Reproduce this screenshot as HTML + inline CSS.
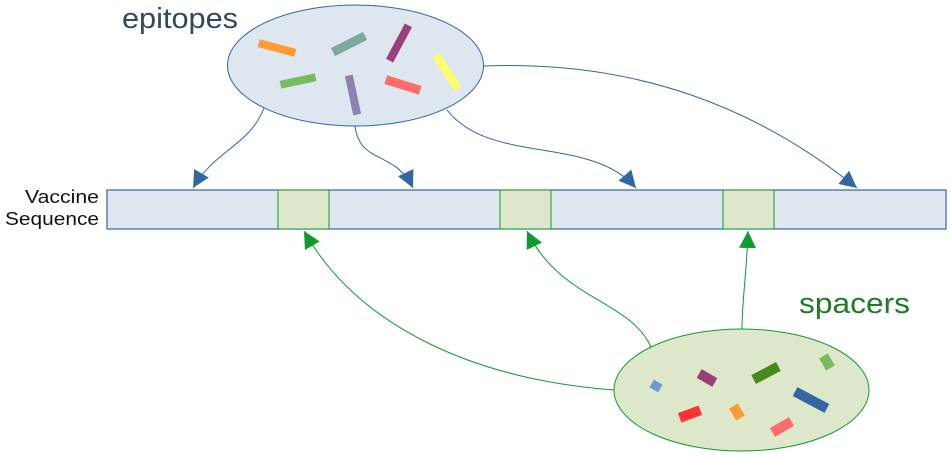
<!DOCTYPE html>
<html><head><meta charset="utf-8"><style>
body{margin:0;background:#fff}
svg{display:block}
text{font-family:"Liberation Sans",sans-serif}
</style></head><body>
<svg width="951" height="457" viewBox="0 0 951 457" xmlns="http://www.w3.org/2000/svg">
<defs>
<marker id="ab" viewBox="0 0 10 10" refX="10" refY="5" markerWidth="17" markerHeight="17" markerUnits="userSpaceOnUse" orient="auto"><path d="M0,0 L10,5 L0,10 z" fill="#3465a4"/></marker>
<marker id="ag" viewBox="0 0 10 10" refX="10" refY="5" markerWidth="17" markerHeight="17" markerUnits="userSpaceOnUse" orient="auto"><path d="M0,0 L10,5 L0,10 z" fill="#109a30"/></marker>
</defs>
<text x="122" y="28" font-size="29" fill="#2e4a62" textLength="116" lengthAdjust="spacingAndGlyphs">epitopes</text>
<text x="799" y="313" font-size="29" fill="#1e7a26" textLength="111" lengthAdjust="spacingAndGlyphs">spacers</text>
<text x="99" y="203" font-size="18" text-anchor="end" fill="#111" textLength="74" lengthAdjust="spacingAndGlyphs">Vaccine</text>
<text x="99" y="225" font-size="18" text-anchor="end" fill="#111" textLength="94" lengthAdjust="spacingAndGlyphs">Sequence</text>

<rect x="107" y="190" width="839" height="39" fill="#dee6ef" stroke="#3465a4" stroke-width="1.2"/>
<line x1="278" y1="190" x2="278" y2="229" stroke="#3465a4"/><line x1="329" y1="190" x2="329" y2="229" stroke="#3465a4"/>
<line x1="500" y1="190" x2="500" y2="229" stroke="#3465a4"/><line x1="551" y1="190" x2="551" y2="229" stroke="#3465a4"/>
<line x1="723" y1="190" x2="723" y2="229" stroke="#3465a4"/><line x1="774" y1="190" x2="774" y2="229" stroke="#3465a4"/>
<rect x="278" y="190" width="51" height="39" fill="#dde8cb" stroke="#109a30"/>
<rect x="500" y="190" width="51" height="39" fill="#dde8cb" stroke="#109a30"/>
<rect x="723" y="190" width="51" height="39" fill="#dde8cb" stroke="#109a30"/>

<g fill="none" stroke="#3465a4" stroke-width="1">
<path d="M264,108 C250,145 215,150 193,188" marker-end="url(#ab)"/>
<path d="M355,126 C360,165 395,150 413,188" marker-end="url(#ab)"/>
<path d="M447,110 C490,165 590,135 636,188" marker-end="url(#ab)"/>
<path d="M484,66 C640,60 760,110 857,188" marker-end="url(#ab)"/>
</g>
<g fill="none" stroke="#109a30" stroke-width="1">
<path d="M614,390 C480,380 360,330 304,231" marker-end="url(#ag)"/>
<path d="M651,347 C630,300 560,300 527,231" marker-end="url(#ag)"/>
<path d="M742,329 C742,300 747,270 748,231" marker-end="url(#ag)"/>
</g>

<ellipse cx="355.5" cy="65.5" rx="128" ry="60.5" fill="#dee6ef" stroke="#3465a4" stroke-width="1"/>
<g>
<rect x="-19" y="-4" width="38" height="8" fill="#ff9933" transform="translate(277,48) rotate(15)"/>
<rect x="-18" y="-4.5" width="36" height="9" fill="#7fa99f" transform="translate(349,44) rotate(-27)"/>
<rect x="-20" y="-4" width="40" height="8" fill="#9b3f7a" transform="translate(399,43) rotate(-62)"/>
<rect x="-20" y="-4" width="40" height="8" fill="#ffff66" transform="translate(447,72) rotate(57)"/>
<rect x="-18" y="-4" width="36" height="8" fill="#77bb5e" transform="translate(298,81) rotate(-12)"/>
<rect x="-20" y="-4" width="40" height="8" fill="#8b82ad" transform="translate(353,95) rotate(78)"/>
<rect x="-18" y="-4.5" width="36" height="9" fill="#ff6b6b" transform="translate(403,85) rotate(17)"/>
</g>

<ellipse cx="741.5" cy="390" rx="127.5" ry="61" fill="#dde8cb" stroke="#109a30" stroke-width="1"/>
<g>
<rect x="-5" y="-4.5" width="10" height="9" fill="#6f99d0" transform="translate(656,386) rotate(30)"/>
<rect x="-9" y="-5" width="18" height="10" fill="#9b3f7a" transform="translate(707,378) rotate(30)"/>
<rect x="-14" y="-5" width="28" height="10" fill="#478a1c" transform="translate(766,373) rotate(-28)"/>
<rect x="-5" y="-7" width="10" height="14" fill="#77bb5e" transform="translate(827,362) rotate(-30)"/>
<rect x="-18" y="-5" width="36" height="10" fill="#3465a4" transform="translate(811,400) rotate(28)"/>
<rect x="-11" y="-5" width="22" height="10" fill="#ff3333" transform="translate(690,414) rotate(-20)"/>
<rect x="-5" y="-7" width="10" height="14" fill="#ff9933" transform="translate(737,412) rotate(-30)"/>
<rect x="-11" y="-5" width="22" height="10" fill="#ff6b6b" transform="translate(782,427) rotate(-30)"/>
</g>
</svg>
</body></html>
